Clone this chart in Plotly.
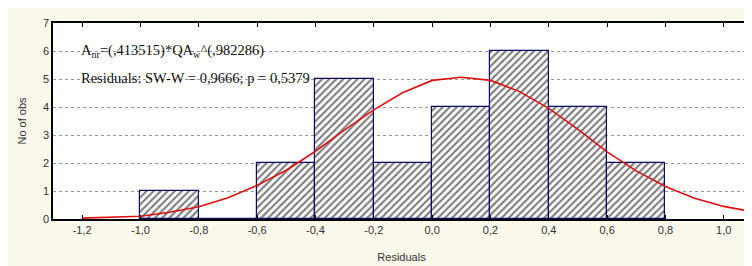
import plotly.graph_objects as go

# Histogram bins (left edges, width 0.2) and counts
bin_left = [-1.0, -0.8, -0.6, -0.4, -0.2, 0.0, 0.2, 0.4, 0.6]
counts = [1, 0, 2, 5, 2, 4, 6, 4, 2]
bin_width = 0.2

# Fitted normal curve
curve_x = [-1.2, -1.1, -1.0, -0.9, -0.8, -0.7, -0.6, -0.5, -0.4, -0.3, -0.2, -0.1,
           0.0, 0.1, 0.2, 0.3, 0.4, 0.5, 0.6, 0.7, 0.8, 0.9, 1.0, 1.1]
curve_y = [0.03, 0.06, 0.10, 0.24, 0.44, 0.76, 1.20, 1.74, 2.42, 3.18, 3.90, 4.52,
           4.95, 5.06, 4.95, 4.55, 3.95, 3.20, 2.40, 1.72, 1.16, 0.74, 0.45, 0.26]

x_ticks = [-1.2, -1.0, -0.8, -0.6, -0.4, -0.2, 0.0, 0.2, 0.4, 0.6, 0.8, 1.0]
x_tick_labels = ["-1,2", "-1,0", "-0,8", "-0,6", "-0,4", "-0,2", "0,0", "0,2", "0,4", "0,6", "0,8", "1,0"]
y_ticks = [0, 1, 2, 3, 4, 5, 6, 7]

line1 = "A<sub>nr</sub>=(,413515)*QA<sub>w</sub>^(,982286)"
line2 = "Residuals: SW-W = 0,9666; p = 0,5379"

fig = go.Figure()
fig.add_trace(go.Bar(
    x=[b + bin_width / 2 for b in bin_left],
    y=counts,
    width=bin_width,
    marker=dict(
        color="white",
        line=dict(color="#0a0a6a", width=1.2),
        pattern=dict(shape="/", fgcolor="#000000", bgcolor="white", size=5, solidity=0.42),
    ),
    showlegend=False,
))
fig.add_trace(go.Scatter(
    x=curve_x, y=curve_y, mode="lines",
    line=dict(color="#e01010", width=1.6),
    showlegend=False,
))

fig.add_annotation(x=-1.21, y=6, xref="x", yref="y", text=line1, showarrow=False,
                   xanchor="left", yanchor="middle",
                   font=dict(family="Liberation Serif", size=14.5, color="#111111"))
fig.add_annotation(x=-1.21, y=5.02, xref="x", yref="y", text=line2, showarrow=False,
                   xanchor="left", yanchor="middle",
                   font=dict(family="Liberation Serif", size=14.5, color="#111111"))

fig.update_layout(
    width=744, height=258,
    margin=dict(l=45, r=0, t=15, b=47),
    paper_bgcolor="#fbf8ec",
    plot_bgcolor="white",
    bargap=0,
    font=dict(family="Liberation Sans", size=11, color="#333333"),
    xaxis=dict(
        range=[-1.3, 1.09], tickvals=x_ticks, ticktext=x_tick_labels,
        showgrid=False, zeroline=False, showline=True, linecolor="black", linewidth=1.5,
        mirror="ticks", ticks="inside", ticklen=4, tickcolor="black",
        title=dict(text="Residuals", font=dict(size=11, color="#333333"), standoff=18),
    ),
    yaxis=dict(
        range=[0, 7], tickvals=y_ticks,
        showgrid=True, gridcolor="#999999", griddash="dot", gridwidth=1,
        zeroline=False, showline=True, linecolor="black", linewidth=1.5,
        mirror=True, ticks="",
        title=dict(text="No of obs", font=dict(size=11, color="#333333"), standoff=14),
    ),
)

fig.write_html("out.html")
